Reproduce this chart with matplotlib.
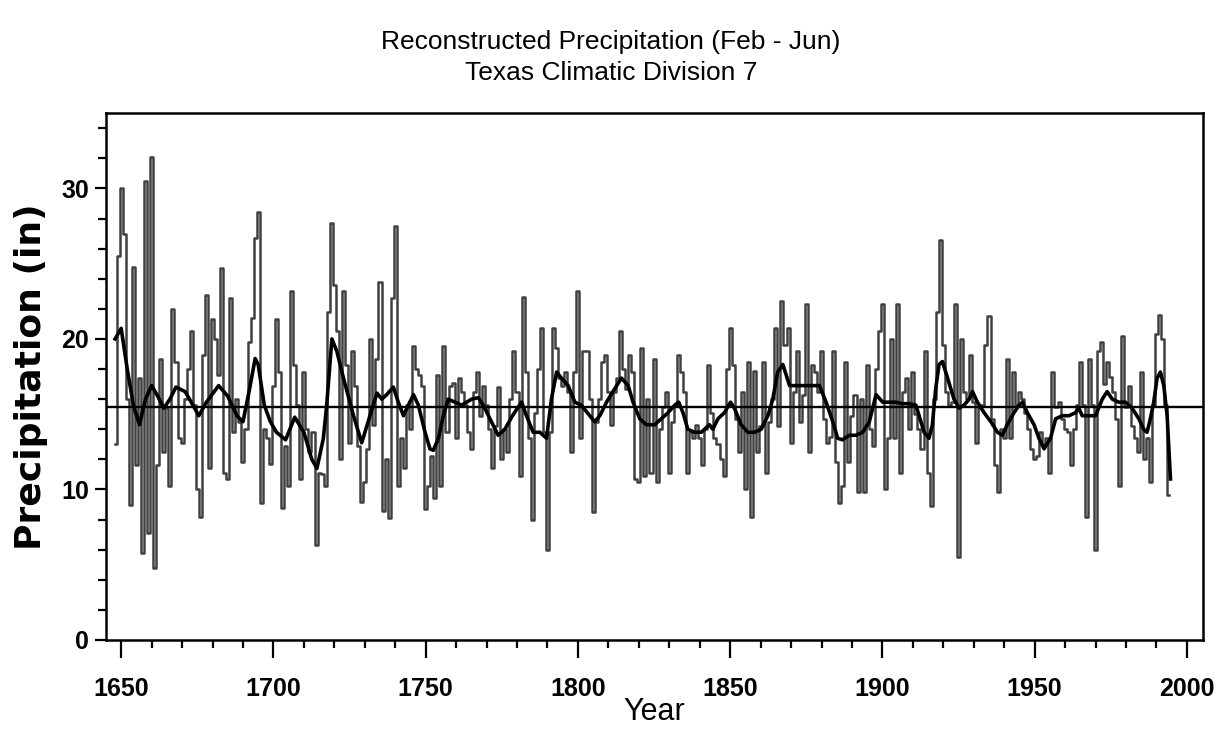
import numpy as np
import matplotlib
matplotlib.use("Agg")
import matplotlib.pyplot as plt
from matplotlib.ticker import MultipleLocator

# reconstructed Feb-Jun precipitation (in), one value per year from 1648
START_YEAR = 1648
precip = [
    # 1648-1661
    13.0, 25.5, 30.0, 27.0, 16.0, 9.0, 24.8, 11.6, 17.4, 5.8, 30.5, 7.1, 32.1, 4.8,
    # 1662-1689
    11.6, 18.7, 12.5, 15.4, 10.2, 22.0, 18.5, 13.4, 13.1, 16.0, 18.0, 20.5, 15.6, 10.0,
    8.2, 18.9, 22.9, 11.4, 21.3, 20.0, 17.6, 24.7, 11.1, 10.7, 22.7, 13.8, 16.0, 14.5,
    # 1690-1733
    11.8, 14.0, 19.8, 21.4, 26.7, 28.4, 9.1, 14.0, 13.4, 11.7, 16.9, 21.3, 17.8, 8.8,
    12.9, 10.2, 23.2, 18.3, 15.6, 10.7, 17.8, 14.0, 12.5, 13.8, 6.3, 11.1, 11.0, 10.2,
    21.8, 27.7, 23.6, 20.5, 12.0, 23.2, 18.3, 13.1, 19.2, 16.9, 12.9, 9.2, 10.5, 12.7,
    20.0, 14.3,
    # 1734-1778
    18.7, 23.8, 8.6, 12.0, 8.1, 22.7, 27.5, 10.2, 13.4, 11.4, 15.6, 14.0, 19.5, 18.0,
    17.6, 16.9, 8.7, 10.2, 12.2, 9.4, 17.6, 10.2, 19.5, 13.8, 16.9, 17.1, 13.4, 17.4,
    16.5, 15.6, 13.8, 12.7, 16.5, 17.8, 14.9, 16.9, 15.6, 14.0, 11.4, 14.2, 16.8, 12.0,
    14.0, 12.5, 16.0,
    # 1779-1821
    19.2, 16.5, 10.9, 22.8, 17.8, 13.4, 8.0, 15.1, 18.0, 20.7, 13.8, 6.0, 13.8, 20.7,
    19.4, 17.4, 16.9, 17.8, 16.5, 12.5, 17.8, 23.2, 13.4, 19.2, 19.2, 16.0, 8.5, 14.5,
    16.0, 18.5, 18.9, 16.5, 14.3, 16.5, 17.4, 20.5, 18.0, 16.7, 18.9, 17.8, 10.7, 10.5,
    19.4,
    # 1822-1864
    10.9, 16.0, 11.1, 18.7, 10.5, 14.0, 15.5, 16.5, 11.1, 14.5, 15.6, 18.9, 17.8, 16.5,
    11.1, 13.8, 13.4, 14.3, 13.4, 11.6, 14.0, 18.3, 15.1, 13.4, 13.0, 12.0, 10.9, 18.0,
    20.7, 18.3, 14.7, 12.5, 16.5, 10.0, 18.5, 8.2, 17.9, 12.5, 14.2, 18.5, 11.1, 14.5,
    16.0,
    # 1865-1911
    20.7, 14.2, 22.5, 19.6, 20.7, 13.1, 16.5, 19.2, 14.5, 16.3, 22.3, 12.5, 18.3, 17.8,
    16.5, 19.2, 14.7, 13.1, 13.5, 19.2, 11.8, 9.1, 10.2, 18.5, 11.8, 14.9, 16.3, 9.8,
    16.0, 9.8, 18.3, 14.0, 12.9, 18.0, 20.5, 22.3, 10.0, 13.4, 20.0, 13.4, 22.3, 11.1,
    16.5, 17.4, 14.0, 17.8, 15.0,
    # 1912-1955
    14.0, 12.7, 19.2, 11.1, 8.9, 16.0, 21.8, 26.6, 19.6, 16.5, 15.6, 15.8, 22.3, 5.5,
    20.0, 16.5, 16.0, 18.9, 15.8, 13.1, 15.4, 15.6, 19.6, 21.5, 14.7, 11.6, 9.8, 14.0,
    13.4, 18.7, 13.4, 17.8, 15.6, 16.5, 16.0, 15.1, 14.0, 12.7, 12.0, 12.2, 13.8, 13.0,
    13.4, 11.1,
    # 1956-1994
    17.8, 15.5, 15.8, 14.7, 14.0, 13.8, 11.6, 14.0, 15.6, 18.5, 15.6, 8.2, 18.7, 15.6,
    6.0, 19.2, 19.8, 17.0, 18.5, 17.5, 16.5, 14.7, 10.2, 20.2, 15.5, 16.9, 14.2, 13.4,
    12.5, 17.8, 12.0, 13.4, 10.5, 15.6, 20.3, 21.6, 20.0, 15.6, 9.6,
]

# smoothed curve
smooth_years = [
    1648, 1650, 1652, 1654, 1656, 1658, 1660, 1662, 1664, 1666, 1668, 1671, 1673,
    1675.5, 1678, 1682, 1685, 1688, 1690, 1692, 1694, 1695, 1697, 1699, 1701, 1704,
    1707, 1710, 1712.6, 1714.3, 1716.4, 1717.5, 1719.2, 1720.8, 1723, 1726.3, 1729,
    1731.7, 1734, 1735.6, 1737.2, 1739.4, 1741, 1742.7, 1744.3, 1746, 1747.6, 1749.8,
    1751.4, 1752.5, 1754.2, 1755.8, 1757.4, 1759.6, 1761.8, 1765.1, 1767.3, 1768.9,
    1771.1, 1773.8, 1776, 1778.5, 1781.5, 1783.1, 1785.3, 1787.5, 1789.7, 1791.3, 1793,
    1794.6, 1796.8, 1799, 1801.1, 1803.9, 1805.5, 1807.2, 1809.4, 1811.5, 1814.3,
    1816.5, 1818.1, 1820.3, 1822.5, 1825.2, 1827.4, 1829.6, 1831.8, 1833.1, 1834.5,
    1836.1, 1838.3, 1840.5, 1843.2, 1844.3, 1846, 1848.1, 1850.1, 1851.4, 1853.6,
    1855.8, 1858, 1860.2, 1862.4, 1864, 1865.6, 1867.3, 1869.5, 1871.6, 1876, 1879.3,
    1881.5, 1883.7, 1885.3, 1886.9, 1889.1, 1891.3, 1893.5, 1895.7, 1897.9, 1900.1,
    1902.2, 1904.4, 1906.6, 1908.8, 1911, 1913.7, 1915.3, 1916.4, 1917.5, 1918.6,
    1919.7, 1921.4, 1923.5, 1925.2, 1926.8, 1928.5, 1929.6, 1931.2, 1933.4, 1935.6,
    1937.8, 1939.4, 1941, 1943.2, 1944.9, 1946, 1947.6, 1949.8, 1951.4, 1953.1, 1955.2,
    1956.9, 1959.1, 1961.3, 1963.4, 1964.5, 1965.6, 1967.8, 1970, 1972.2, 1973.8,
    1975.5, 1977.6, 1979.8, 1982, 1984.2, 1985.8, 1986.9, 1988, 1989.1, 1990.2, 1991.3,
    1992.4, 1993.5, 1994.6,
]
smooth_vals = [
    20.0, 20.7, 18.0, 15.6, 14.3, 16.0, 16.9, 16.2, 15.4, 16.0, 16.8, 16.5, 15.8,
    14.9, 15.8, 16.9, 16.2, 14.9, 14.5, 16.5, 18.7, 18.3, 15.6, 14.5, 13.8, 13.3,
    14.8, 13.8, 12.0, 11.4, 13.4, 15.6, 20.0, 19.2, 17.4, 14.9, 13.1,
    14.9, 16.4, 16.0, 16.3, 16.8, 15.8, 14.9, 15.6, 16.3, 15.6, 13.8,
    12.7, 12.6, 13.4, 14.9, 16.0, 15.8, 15.6, 16.0, 16.1, 15.6,
    14.7, 13.6, 14.0, 14.9, 15.8, 14.9, 13.8, 13.8, 13.4, 16.0, 17.8,
    17.4, 16.9, 15.8, 15.6, 14.9, 14.5, 14.9, 15.8, 16.5, 17.4,
    16.9, 15.8, 14.7, 14.3, 14.3, 14.7, 15.1, 15.6, 15.8, 15.1,
    14.0, 13.8, 13.8, 14.3, 14.0, 14.7, 15.1, 15.8, 15.4, 14.3,
    13.8, 13.8, 14.0, 14.9, 16.0, 17.8, 18.3, 16.9, 16.9, 16.9, 16.9,
    15.8, 14.5, 13.4, 13.3, 13.6, 13.6, 13.8, 14.5, 16.3, 15.8,
    15.8, 15.8, 15.7, 15.7, 15.6, 13.8, 13.4, 14.3, 16.7, 18.3,
    18.5, 17.4, 16.0, 15.4, 15.6, 16.0, 16.5, 15.8, 15.1, 14.5,
    13.8, 13.6, 14.3, 15.1, 15.6, 15.8, 15.1, 14.3, 13.4, 12.7, 13.4,
    14.7, 14.9, 14.9, 15.1, 15.4, 14.9, 14.9, 14.9, 16.0, 16.5,
    16.0, 15.8, 15.8, 15.4, 14.7, 14.0, 13.8, 14.7, 15.8, 17.4, 17.8,
    16.9, 14.9, 10.7,
]
MEAN = 15.45
XTICKS = [1650, 1700, 1750, 1800, 1850, 1900, 1950, 2000]
YTICKS = [0, 10, 20, 30]

years = np.arange(START_YEAR, START_YEAR + len(precip))

SANS = "Liberation Sans"

fig = plt.figure(figsize=(12.22, 7.30), dpi=100)
ax = fig.add_axes([0.0867, 0.1233, 0.8978, 0.7217])

ax.plot(years, precip, drawstyle="steps-mid", color="#404040", lw=1.8)
ax.plot(smooth_years, smooth_vals, color="black", lw=2.6, solid_joinstyle="round")
ax.axhline(MEAN, color="black", lw=1.7)

ax.set_xlim(1645, 2005.3)
ax.set_ylim(0, 35)
ax.set_xticks(XTICKS)
ax.set_xticklabels([str(t) for t in XTICKS], fontfamily=SANS, fontsize=18,
                   fontweight="bold")
ax.set_yticks(YTICKS)
ax.set_yticklabels([str(t) for t in YTICKS], fontfamily=SANS, fontsize=18,
                   fontweight="bold")
ax.xaxis.set_minor_locator(MultipleLocator(10))
ax.yaxis.set_minor_locator(MultipleLocator(2))
ax.tick_params(axis="x", which="major", direction="out", length=13, width=1.6, pad=14)
ax.tick_params(axis="y", which="major", direction="out", length=8, width=1.6, pad=4)
ax.tick_params(axis="both", which="minor", direction="out", length=6, width=1.6)
for sp in ax.spines.values():
    sp.set_linewidth(1.8)

ax.set_xlabel("Year", fontfamily=SANS, fontsize=22, labelpad=-3)
ax.set_ylabel("Precipitation (in)", fontfamily="DejaVu Sans", fontsize=26,
              fontweight="bold", labelpad=10)

fig.text(0.5, 0.942, "Reconstructed Precipitation (Feb - Jun)", ha="center",
         va="center", fontfamily=SANS, fontsize=19)
fig.text(0.5, 0.9, "Texas Climatic Division 7", ha="center", va="center",
         fontfamily=SANS, fontsize=19)

fig.savefig("out.png", dpi=100)
